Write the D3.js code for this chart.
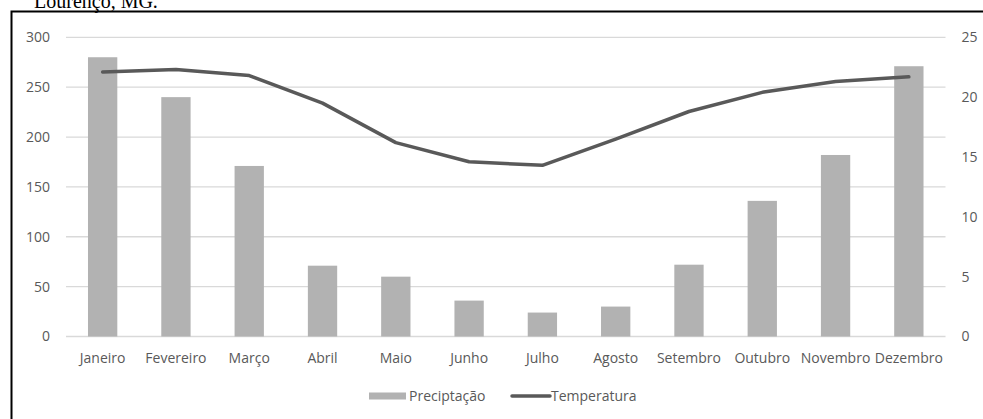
<!DOCTYPE html>
<html>
<head>
<meta charset="utf-8">
<script src="https://cdn.jsdelivr.net/npm/d3@7/dist/d3.min.js"></script>
<style>
  html, body { margin: 0; padding: 0; background: #fff; }
  svg { display: block; }
</style>
</head>
<body>
<svg id="chart" width="983" height="419"></svg>
<script>
// Monthly climate data
const months = ["Janeiro", "Fevereiro", "Março", "Abril", "Maio", "Junho",
                "Julho", "Agosto", "Setembro", "Outubro", "Novembro", "Dezembro"];
const precipitacao = [280, 240, 171, 71, 60, 36, 24, 30, 72, 136, 182, 271];
const temperatura = [22.1, 22.3, 21.8, 19.5, 16.2, 14.6, 14.3, 16.5, 18.8, 20.4, 21.3, 21.7];
const leftTicks = [0, 50, 100, 150, 200, 250, 300];
const rightTicks = [0, 5, 10, 15, 20, 25];
const seriesNames = ["Preciptação", "Temperatura"];

const svg = d3.select("#chart");
const font = "'Open Sans', Lato, sans-serif";
const fontSize = 14;
const textColor = "#595959";
const gridColor = "#d9d9d9";
const barColor = "#b2b2b2";
const lineColor = "#595959";

const plot = { left: 66, right: 945.5, top: 37.3, bottom: 336.5 };

// Caption line above the frame (only its lower part falls inside the view)
svg.append("text")
  .attr("x", 34).attr("y", 8)
  .attr("font-family", "'Liberation Serif', 'Times New Roman', serif")
  .attr("font-size", 20)
  .attr("fill", "#000")
  .text("Lourenço, MG.");

// Frame
svg.append("rect")
  .attr("x", 11.5).attr("y", 11.5)
  .attr("width", 1000).attr("height", 500)
  .attr("fill", "none")
  .attr("stroke", "#000")
  .attr("stroke-width", 2);

const x = d3.scaleBand()
  .domain(months)
  .range([plot.left, plot.right])
  .paddingInner(0.6)
  .paddingOuter(0.3);

const yL = d3.scaleLinear().domain([0, 300]).range([plot.bottom, plot.top]);
const yR = d3.scaleLinear().domain([0, 25]).range([plot.bottom, plot.top]);

// Gridlines
svg.append("g")
  .selectAll("line")
  .data(leftTicks)
  .join("line")
  .attr("x1", plot.left).attr("x2", plot.right)
  .attr("y1", d => yL(d)).attr("y2", d => yL(d))
  .attr("stroke", gridColor)
  .attr("stroke-width", 1.3);

// Left axis labels
const axisL = d3.axisLeft(yL).tickValues(leftTicks).tickSize(0).tickPadding(0);
const gL = svg.append("g").attr("transform", `translate(50,0)`).call(axisL);
gL.select(".domain").remove();
gL.selectAll("text")
  .attr("font-family", font).attr("font-size", fontSize)
  .attr("fill", textColor);

// Right axis labels
const axisR = d3.axisRight(yR).tickValues(rightTicks).tickSize(0).tickPadding(0);
const gR = svg.append("g").attr("transform", `translate(961.5,0)`).call(axisR);
gR.select(".domain").remove();
gR.selectAll("text")
  .attr("font-family", font).attr("font-size", fontSize)
  .attr("fill", textColor);

// Category labels
const axisB = d3.axisBottom(x).tickSize(0).tickPadding(0);
const gB = svg.append("g").attr("transform", `translate(0,353.5)`).call(axisB);
gB.select(".domain").remove();
gB.selectAll("text")
  .attr("font-family", font).attr("font-size", fontSize)
  .attr("fill", textColor);

// Precipitation bars
svg.append("g")
  .selectAll("rect")
  .data(months.map((m, i) => ({ m, v: precipitacao[i] })))
  .join("rect")
  .attr("x", d => x(d.m))
  .attr("width", x.bandwidth())
  .attr("y", d => yL(d.v))
  .attr("height", d => yL(0) - yL(d.v))
  .attr("fill", barColor);

// Temperature line
const line = d3.line()
  .x((d, i) => x(months[i]) + x.bandwidth() / 2)
  .y(d => yR(d));

svg.append("path")
  .datum(temperatura)
  .attr("d", line)
  .attr("fill", "none")
  .attr("stroke", lineColor)
  .attr("stroke-width", 3.5)
  .attr("stroke-linejoin", "round")
  .attr("stroke-linecap", "round");

// Legend
const legend = svg.append("g").attr("font-family", font).attr("font-size", fontSize).attr("fill", textColor);
legend.append("rect")
  .attr("x", 369).attr("y", 392.5).attr("width", 37).attr("height", 7)
  .attr("fill", barColor);
legend.append("text").attr("x", 409).attr("y", 401).text(seriesNames[0]);
legend.append("line")
  .attr("x1", 512).attr("x2", 550).attr("y1", 396).attr("y2", 396)
  .attr("stroke", lineColor).attr("stroke-width", 3.5).attr("stroke-linecap", "round");
legend.append("text").attr("x", 551).attr("y", 401).text(seriesNames[1]);
</script>
</body>
</html>
